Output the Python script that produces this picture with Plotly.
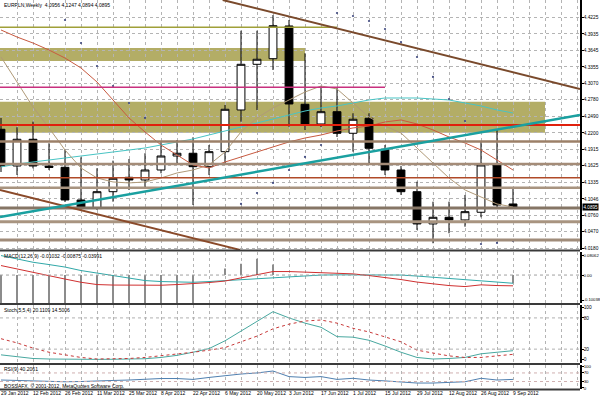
import plotly.graph_objects as go

FONT = "Liberation Sans, Arial, sans-serif"

# ---------------- data ----------------
dates = ["2012-01-29", "2012-02-05", "2012-02-12", "2012-02-19", "2012-02-26", "2012-03-04",
         "2012-03-11", "2012-03-18", "2012-03-25", "2012-04-01", "2012-04-08", "2012-04-15",
         "2012-04-22", "2012-04-29", "2012-05-06", "2012-05-13", "2012-05-20", "2012-05-27",
         "2012-06-03", "2012-06-10", "2012-06-17", "2012-06-24", "2012-07-01", "2012-07-08",
         "2012-07-15", "2012-07-22", "2012-07-29", "2012-08-05", "2012-08-12", "2012-08-19",
         "2012-08-26", "2012-09-02", "2012-09-09"]

opens = [4.2264, 4.1621, 4.2089, 4.1621, 4.1598, 4.1026, 4.0881, 4.1171, 4.1423, 4.1376, 4.1551,
         4.1796, 4.1844, 4.1609, 4.1872, 4.2602, 4.3402, 4.3500, 4.4073, 4.2702, 4.2357, 4.2572,
         4.2194, 4.2457, 4.1914, 4.1551, 4.1171, 4.0606, 4.0723, 4.0676, 4.0811, 4.1639, 4.0956]
highs = [4.2462, 4.2299, 4.2397, 4.2019, 4.1914, 4.1774, 4.1581, 4.1714, 4.1744, 4.1844, 4.2047,
         4.2076, 4.2124, 4.1989, 4.2689, 4.3990, 4.3990, 4.4265, 4.4178, 4.3595, 4.3022, 4.2998,
         4.2544, 4.2544, 4.1989, 4.1620, 4.1346, 4.0996, 4.0996, 4.1114, 4.2047, 4.2252, 4.1247]
lows = [4.1516, 4.1464, 4.1580, 4.1550, 4.0990, 4.0851, 4.0850, 4.0996, 4.1201, 4.1231, 4.1493,
        4.1639, 4.0938, 4.1464, 4.1674, 4.2397, 4.2602, 4.3302, 4.2309, 4.2252, 4.2304, 4.2129,
        4.1872, 4.1639, 4.1464, 4.1114, 4.0501, 4.0268, 4.0443, 4.0558, 4.0723, 4.0898, 4.0894]
closes = [4.1621, 4.2089, 4.1621, 4.1595, 4.1026, 4.0881, 4.1171, 4.1406, 4.1376, 4.1551, 4.1796,
          4.1844, 4.1609, 4.1872, 4.2614, 4.3402, 4.3490, 4.4078, 4.2707, 4.2339, 4.2572, 4.2194,
          4.2439, 4.1931, 4.1551, 4.1171, 4.0606, 4.0723, 4.0676, 4.0821, 4.1639, 4.0938, 4.0895]

ma_red = [4.4003, 4.3880, 4.3775, 4.3652, 4.3512, 4.3337, 4.3092, 4.2777, 4.2462, 4.2217, 4.1989,
          4.1814, 4.1639, 4.1586, 4.1691, 4.1779, 4.1866, 4.1954, 4.2042, 4.2111, 4.2164, 4.2234,
          4.2287, 4.2322, 4.2392, 4.2427, 4.2357, 4.2252, 4.2129, 4.2024, 4.1901, 4.1726, 4.1551]
ma_tan = [4.3530, 4.3092, 4.2654, 4.2287, 4.1901, 4.1586, 4.1411, 4.1341, 4.1324, 4.1341, 4.1411,
          4.1499, 4.1551, 4.1639, 4.1866, 4.2217, 4.2462, 4.2637, 4.2777, 4.2917, 4.3022, 4.2970,
          4.2724, 4.2479, 4.2322, 4.2199, 4.1936, 4.1674, 4.1411, 4.1201, 4.1078, 4.0956, 4.0903]
ma_cyan = [4.1604, 4.1656, 4.1691, 4.1726, 4.1761, 4.1796, 4.1831, 4.1866, 4.1901, 4.1936, 4.1989,
           4.2042, 4.2094, 4.2164, 4.2234, 4.2304, 4.2374, 4.2444, 4.2514, 4.2584, 4.2637, 4.2672,
           4.2724, 4.2777, 4.2812, 4.2812, 4.2812, 4.2794, 4.2777, 4.2724, 4.2672, 4.2602, 4.2549]

sar_dates = ["2012-02-26", "2012-03-04", "2012-03-11", "2012-03-18", "2012-03-25", "2012-04-01",
             "2012-05-13", "2012-05-20", "2012-05-27", "2012-06-03", "2012-06-10", "2012-06-17",
             "2012-06-24", "2012-07-01", "2012-07-08", "2012-07-15", "2012-07-22", "2012-07-29",
             "2012-08-05", "2012-08-12", "2012-08-19", "2012-08-26", "2012-09-02", "2012-09-09"]
sar_vals = [4.4178, 4.3775, 4.3372, 4.3022, 4.2724, 4.2462,
            4.0956, 4.1148, 4.1324, 4.1551, 4.1779, 4.1989,
            4.4300, 4.4248, 4.4160, 4.4020, 4.3792, 4.3530,
            4.3180, 4.2794, 4.2409, 4.0255, 4.0273, 4.0308]

macd_teal = [0.0784, 0.0644, 0.0515, 0.0422, 0.0322, 0.0181, 0.0080, -0.0020, -0.0121, -0.0221, -0.0261,
             -0.0290, -0.0290, -0.0261, -0.0221, -0.0193, -0.0161, -0.0101, -0.0060, -0.0020, 0.0000,
             0.0008, 0.0008, 0.0008, 0.0008, 0.0000, -0.0040, -0.0088, -0.0141, -0.0201, -0.0241,
             -0.0282, -0.0330]
macd_red = [0.0382, 0.0241, 0.0113, -0.0020, -0.0161, -0.0290, -0.0382, -0.0402, -0.0414, -0.0422,
            -0.0410, -0.0382, -0.0354, -0.0302, -0.0241, -0.0121, 0.0000, 0.0141, 0.0141, 0.0121,
            0.0088, 0.0072, 0.0048, -0.0020, -0.0088, -0.0181, -0.0282, -0.0362, -0.0422, -0.0463,
            -0.0394, -0.0422, -0.0434]
macd_hist = [-0.12, -0.12, -0.12, -0.12, -0.12, -0.12, -0.12, -0.12, -0.12, -0.12, -0.12, -0.12,
             -0.12, 0.0, 0.026, 0.046, 0.066, 0.042, 0.0, 0.0, 0.0, 0.0, 0.0, 0.0, 0.0, 0.0, 0.0,
             0.0, 0.0, 0.0, 0.0, 0.0, -0.033]

stoch_main = [9, 5, 2, 1, 0.5, 0.5, 0.3, 0.5, 1, 1.5, 4, 8, 14, 21, 36, 55, 74, 92, 80, 70, 62, 44,
              43, 37, 26, 14, 4, 1, 2, 4, 11, 14, 17]
stoch_signal = [40, 32, 22, 14, 9, 4, 1, 1, 2, 4, 7, 11, 14, 18, 23, 34, 45, 59, 68, 74, 76, 70, 60,
                53, 43, 34, 18, 12, 7, 4, 4, 7, 10]
rsi_vals = [37, 35, 33, 30, 29, 30, 31, 35, 37, 42, 44, 44, 40, 49, 58, 65, 70, 79, 53, 49, 53, 40,
            45, 37, 33, 29, 23, 23, 25, 29, 45, 37, 40]

tick_dates = ["2012-01-29", "2012-02-12", "2012-02-26", "2012-03-11", "2012-03-25", "2012-04-08",
              "2012-04-22", "2012-05-06", "2012-05-20", "2012-06-03", "2012-06-17", "2012-07-01",
              "2012-07-15", "2012-07-29", "2012-08-12", "2012-08-26", "2012-09-09"]
tick_text = ["29 Jan 2012", "12 Feb 2012", "26 Feb 2012", "11 Mar 2012", "25 Mar 2012", "8 Apr 2012",
             "22 Apr 2012", "6 May 2012", "20 May 2012", "3 Jun 2012", "17 Jun 2012", "1 Jul 2012",
             "15 Jul 2012", "29 Jul 2012", "12 Aug 2012", "26 Aug 2012", "9 Sep 2012"]
price_ticks = [4.4225, 4.3935, 4.3645, 4.3355, 4.3070, 4.2780, 4.2490, 4.2200, 4.1915, 4.1625,
               4.1335, 4.1046, 4.0760, 4.0470, 4.0180]
price_tick_text = ["4.4225", "4.3935", "4.3645", "4.3355", "4.3070", "4.2780", "4.2490", "4.2200",
                   "4.1915", "4.1625", "4.1335", "4.1046", "4.0760", "4.0470", "4.0180"]
macd_ticks = [0.08062, 0.0, -0.10038]
macd_tick_text = ["0.08062", "0.00", "-0.10038"]
stoch_ticks = [100, 80, 20, 0]
rsi_ticks = [100, 70, 30, 0]

# drawn objects (prices / dates)
zone_low = [4.3460, 4.2204]
zone_high = [4.3687, 4.2747]
zone_end = ["2012-06-10", "2012-09-23"]

full_levels = [4.2050, 4.1656, 4.1415, 4.1241, 4.0886, 4.0646, 4.0325, 4.2339]
full_colors = ["#9c8068", "#a48c78", "#b04a28", "#a89480", "#857565", "#a89480", "#a08c7a", "#e0200c"]
full_widths = [2.5, 2.5, 1.3, 2.5, 3, 3, 3, 2]

part_levels = [4.4050, 4.2999]
part_end = ["2012-06-24", "2012-07-15"]
part_colors = ["#a0a038", "#c8307e"]

trend_x0 = ["2012-05-05", "2012-01-28 13:30", "2012-01-28 13:30"]
trend_y0 = [4.4528, 4.1201, 4.0728]
trend_x1 = ["2012-10-08 07:30", "2012-05-12 14:00", "2012-10-08 07:30"]
trend_y1 = [4.2970, 4.0150, 4.2514]
trend_colors = ["#7a4a2c", "#8a4a2a", "#1aa0a0"]
trend_widths = [2, 1.8, 2.5]

x_range = ["2012-01-28 13:30", "2012-10-08 07:30"]

# ---------------- figure ----------------
fig = go.Figure()

fig.add_trace(go.Candlestick(
    x=dates, open=opens, high=highs, low=lows, close=closes,
    increasing=dict(line=dict(color="#000000", width=1), fillcolor="#ffffff"),
    decreasing=dict(line=dict(color="#000000", width=1), fillcolor="#000000"),
    whiskerwidth=0, showlegend=False, hoverinfo="skip", xaxis="x", yaxis="y"))

fig.add_trace(go.Scatter(x=dates, y=ma_cyan, mode="lines", line=dict(color="#48c4c4", width=1),
                         xaxis="x", yaxis="y", hoverinfo="skip"))
fig.add_trace(go.Scatter(x=dates, y=ma_tan, mode="lines", line=dict(color="#b09a78", width=1),
                         xaxis="x", yaxis="y", hoverinfo="skip"))
fig.add_trace(go.Scatter(x=dates, y=ma_red, mode="lines", line=dict(color="#c85a40", width=1),
                         xaxis="x", yaxis="y", hoverinfo="skip"))
fig.add_trace(go.Scatter(x=sar_dates, y=sar_vals, mode="markers",
                         marker=dict(color="#404a80", size=2.2), xaxis="x", yaxis="y", hoverinfo="skip"))

# MACD
fig.add_trace(go.Bar(x=dates, y=macd_hist, marker=dict(color="#8c8c8c", line=dict(width=0)),
                     width=0.5 * 86400000, xaxis="x", yaxis="y2", hoverinfo="skip"))
fig.add_trace(go.Scatter(x=dates, y=macd_teal, mode="lines", line=dict(color="#30a8a8", width=1),
                         xaxis="x", yaxis="y2", hoverinfo="skip"))
fig.add_trace(go.Scatter(x=dates, y=macd_red, mode="lines", line=dict(color="#d03030", width=1),
                         xaxis="x", yaxis="y2", hoverinfo="skip"))

# Stochastic
fig.add_trace(go.Scatter(x=dates, y=stoch_main, mode="lines", line=dict(color="#48a8a0", width=1),
                         xaxis="x", yaxis="y3", hoverinfo="skip"))
fig.add_trace(go.Scatter(x=dates, y=stoch_signal, mode="lines",
                         line=dict(color="#c83838", width=1, dash="dot"),
                         xaxis="x", yaxis="y3", hoverinfo="skip"))

# RSI
fig.add_trace(go.Scatter(x=dates, y=rsi_vals, mode="lines", line=dict(color="#5080b0", width=1),
                         xaxis="x", yaxis="y4", hoverinfo="skip"))

shapes = []
for lo, hi, end in zip(zone_low, zone_high, zone_end):
    shapes.append(dict(type="rect", xref="x", yref="y", x0="2012-01-01", x1=end, y0=lo, y1=hi,
                       fillcolor="#b3ad66", line=dict(width=0), layer="below"))
for lv, c, w in zip(full_levels, full_colors, full_widths):
    shapes.append(dict(type="line", xref="x domain", yref="y", x0=0, x1=1, y0=lv, y1=lv,
                       line=dict(color=c, width=w)))
for lv, end, c in zip(part_levels, part_end, part_colors):
    shapes.append(dict(type="line", xref="x", yref="y", x0="2012-01-01", x1=end, y0=lv, y1=lv,
                       line=dict(color=c, width=1.5)))
for xa, ya, xb, yb, c, w in zip(trend_x0, trend_y0, trend_x1, trend_y1, trend_colors, trend_widths):
    shapes.append(dict(type="line", xref="x", yref="y", x0=xa, y0=ya, x1=xb, y1=yb,
                       line=dict(color=c, width=w)))
# indicator levels
shapes.append(dict(type="line", xref="x domain", yref="y2", x0=0, x1=1, y0=0, y1=0,
                   line=dict(color="#a0a0a0", width=1, dash="dot")))
for lv in [80, 20]:
    shapes.append(dict(type="line", xref="x domain", yref="y3", x0=0, x1=1, y0=lv, y1=lv,
                       line=dict(color="#b0b0b0", width=1, dash="dot")))
for lv in [70, 30]:
    shapes.append(dict(type="line", xref="x domain", yref="y4", x0=0, x1=1, y0=lv, y1=lv,
                       line=dict(color="#d0b0b0", width=1, dash="dot")))
# panel separators
for py in [0.3577, 0.2205, 0.0667, 0.001]:
    shapes.append(dict(type="line", xref="paper", yref="paper", x0=0, x1=1, y0=py, y1=py,
                       line=dict(color="#3a3a3a", width=2)))

grid = dict(showgrid=True, gridcolor="#b4b4b4", griddash="dot", gridwidth=1)

def yax(domain, rng, vals, text, fs=4.8):
    d = dict(domain=domain, range=rng, side="right", anchor="x", tickmode="array",
             tickvals=vals, ticktext=text, ticks="outside", ticklen=2, tickcolor="#000000",
             tickfont=dict(size=fs, family=FONT, color="#000000"), showline=True,
             linecolor="#000000", linewidth=1.5, zeroline=False, fixedrange=True, showgrid=False,
             automargin=False, ticklabelstandoff=-1)
    return d

ymain = yax([0.359, 1.0], [4.0150, 4.4528], price_ticks, price_tick_text)
ymain.update(grid)

fig.update_layout(
    width=600, height=400, margin=dict(l=0, r=20, t=0, b=10, autoexpand=False),
    paper_bgcolor="#ffffff", plot_bgcolor="#ffffff",
    font=dict(family=FONT, size=5, color="#000000"),
    showlegend=False, hovermode=False,
    xaxis=dict(type="date", range=x_range, anchor="y4", domain=[0, 1],
               tickmode="array", tickvals=tick_dates, ticktext=tick_text, tickangle=0,
               ticklabelposition="outside right", ticks="", automargin=False,
               tickfont=dict(size=5, family=FONT, color="#000000"),
               minor=dict(tickmode="linear", tick0="2012-01-29", dtick=7 * 86400000,
                          showgrid=True, gridcolor="#b4b4b4", griddash="dot", gridwidth=1),
               showline=False, zeroline=False, rangeslider=dict(visible=False), fixedrange=True,
               **grid),
    yaxis=ymain,
    yaxis2=yax([0.2231, 0.3538], [-0.1124, 0.0927], macd_ticks, macd_tick_text, fs=4.2),
    yaxis3=yax([0.0692, 0.2179], [-6.7, 104.8], stoch_ticks, [str(v) for v in stoch_ticks]),
    yaxis4=yax([0.0026, 0.0641], [-4.7, 107], rsi_ticks, [str(v) for v in rsi_ticks], fs=4.4),
    shapes=shapes,
)

titles = [("EURPLN,Weekly  4.0956 4.1247 4.0894 4.0895", 0.9859),
          ("MACD(12,26,9) -0.01032 -0.00875 -0.03991", 0.3436),
          ("Stoch(5,5,4) 20.1109 14.5006", 0.2051),
          ("RSI(9) 40.2061", 0.0538),
          ("BOSSAFX, \u00a9 2001-2012, MetaQuotes Software Corp.", 0.0095)]
ann = []
for txt, py in titles:
    ann.append(dict(text=txt, xref="paper", yref="paper", x=0.004, y=py, xanchor="left",
                    yanchor="middle", showarrow=False, font=dict(size=5, family=FONT, color="#000000")))
ann.append(dict(text="4.0895", xref="paper", yref="y", x=1.004, y=closes[-1], xanchor="left",
                yanchor="middle", showarrow=False, bgcolor="#000000", borderpad=0.5,
                font=dict(size=4.6, family=FONT, color="#ffffff")))
fig.update_layout(annotations=ann)

fig.write_html("out.html", config={"displayModeBar": False},
               post_script="document.body.style.margin='0px';document.body.style.overflow='hidden';")
